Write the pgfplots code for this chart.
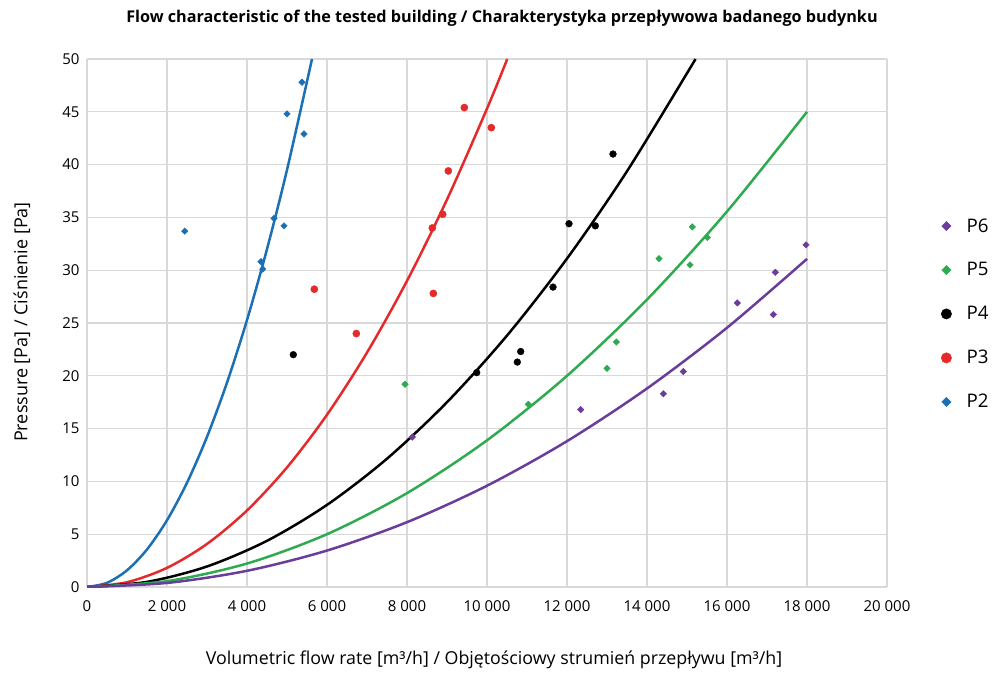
\documentclass[border=0pt]{standalone}
\usepackage{fontspec}
\setmainfont{Open Sans}
\usepackage{pgfplots}
\pgfplotsset{compat=1.18}
\definecolor{cP2}{HTML}{1B6FB5}
\definecolor{cP3}{HTML}{E42A2A}
\definecolor{cP5}{HTML}{2EAA50}
\definecolor{cP6}{HTML}{6A3D9A}
\definecolor{gridc}{HTML}{D9D9D9}
\pgfplotsset{
  legdiam/.style={legend image code/.code={\draw[##1, mark size=3.3pt] plot coordinates {(0pt,0pt)}; \path (-6pt,0pt) (18pt,0pt);}},
  legcirc/.style={legend image code/.code={\draw[##1, mark size=5.2pt] plot coordinates {(0pt,0pt)}; \path (-6pt,0pt) (18pt,0pt);}},
}
\begin{document}
\begin{tikzpicture}[x=1pt,y=1pt]
\useasboundingbox (0,0) rectangle (993,672);
\node[font=\bfseries\fontsize{16.2}{18}\selectfont] at (502,654) {Flow characteristic of the tested building / Charakterystyka przepływowa badanego budynku};
\node[font=\fontsize{17.8}{20}\selectfont] at (494,12) {Volumetric flow rate [m³/h] / Objętościowy strumień przepływu [m³/h]};
\node[rotate=90,font=\fontsize{18}{20}\selectfont] at (22,350) {Pressure [Pa] / Ciśnienie [Pa]};
\begin{axis}[
  at={(87pt,85pt)}, anchor=south west,
  scale only axis, width=800pt, height=528pt,
  xmin=0, xmax=20000, ymin=0, ymax=50,
  scaled x ticks=false,
  xtick={0,2000,...,20000},
  xticklabels={0,2 000,4 000,6 000,8 000,10 000,12 000,14 000,16 000,18 000,20 000},
  ytick={0,5,...,50},
  /pgf/number format/assume math mode=true,
  ticklabel style={font=\fontsize{15}{17}\selectfont},
  xticklabel style={yshift=-10pt},
  yticklabel style={xshift=-4pt},
  major tick length=0pt,
  grid=major,
  major grid style={gridc, line width=1.2pt},
  axis line style={draw=none},
  legend style={at={(1.0625,0.517)}, anchor=west, draw=none, fill=none,
    row sep=25pt, font=\fontsize{18.7}{20}\selectfont},
  legend cell align=left,
]
% trendlines
\addplot[cP2, line width=2.5pt, smooth, forget plot] coordinates {
(0,0) (500,0.395) (1000,1.58) (1500,3.555) (2000,6.32) (2500,9.875) (3000,14.22) (3500,19.355) (4000,25.28) (4500,32.0) (5000,39.5) (5625,50.0)};
\addplot[cP3, line width=2.5pt, smooth, forget plot] coordinates {
(0,0) (1000,0.453) (2000,1.812) (3000,4.077) (4000,7.248) (5000,11.325) (6000,16.31) (7000,22.20) (8000,28.99) (9000,36.69) (10000,45.3) (10506,50.0)};
\addplot[black, line width=2.5pt, smooth, forget plot] coordinates {
(0,0) (1500,0.486) (3000,1.944) (4500,4.374) (6000,7.776) (7500,12.15) (9000,17.50) (10500,23.81) (12000,31.10) (13500,39.37) (15214,50.0)};
\addplot[cP5, line width=2.5pt, smooth, forget plot] coordinates {
(0,0) (2000,0.556) (4000,2.222) (6000,5.0) (8000,8.89) (10000,13.89) (12000,20.0) (14000,27.22) (16000,35.56) (18000,45.0)};
\addplot[cP6, line width=2.5pt, smooth, forget plot] coordinates {
(0,0) (2000,0.384) (4000,1.534) (6000,3.452) (8000,6.138) (10000,9.59) (12000,13.81) (14000,18.80) (16000,24.55) (18000,31.07)};
% data points
\addplot[only marks, mark=square*, mark options={rotate=45}, mark size=2.3pt, color=cP6, legdiam] coordinates {
(8133,14.2) (12342,16.8) (14408,18.3) (14908,20.4) (16258,26.9) (17158,25.8) (17208,29.8) (17975,32.4)};
\addlegendentry{P6}
\addplot[only marks, mark=square*, mark options={rotate=45}, mark size=2.3pt, color=cP5, legdiam] coordinates {
(7950,19.2) (11033,17.3) (13233,23.2) (13000,20.7) (14300,31.1) (15133,34.1) (15075,30.5) (15508,33.1)};
\addlegendentry{P5}
\addplot[only marks, mark=*, mark size=3.4pt, color=black, legcirc] coordinates {
(5158,22.0) (9742,20.3) (10758,21.3) (10842,22.3) (13150,41.0) (12050,34.4) (12708,34.2) (11650,28.4)};
\addlegendentry{P4}
\addplot[only marks, mark=*, mark size=3.6pt, color=cP3, legcirc] coordinates {
(9433,45.4) (10108,43.5) (9033,39.4) (8892,35.3) (8633,34.0) (8658,27.8) (5683,28.2) (6733,24.0)};
\addlegendentry{P3}
\addplot[only marks, mark=square*, mark options={rotate=45}, mark size=2.3pt, color=cP2, legdiam] coordinates {
(2442,33.7) (5375,47.8) (5000,44.8) (5425,42.9) (4675,34.9) (4925,34.2) (4350,30.8) (4392,30.1)};
\addlegendentry{P2}
\end{axis}
\end{tikzpicture}
\end{document}
